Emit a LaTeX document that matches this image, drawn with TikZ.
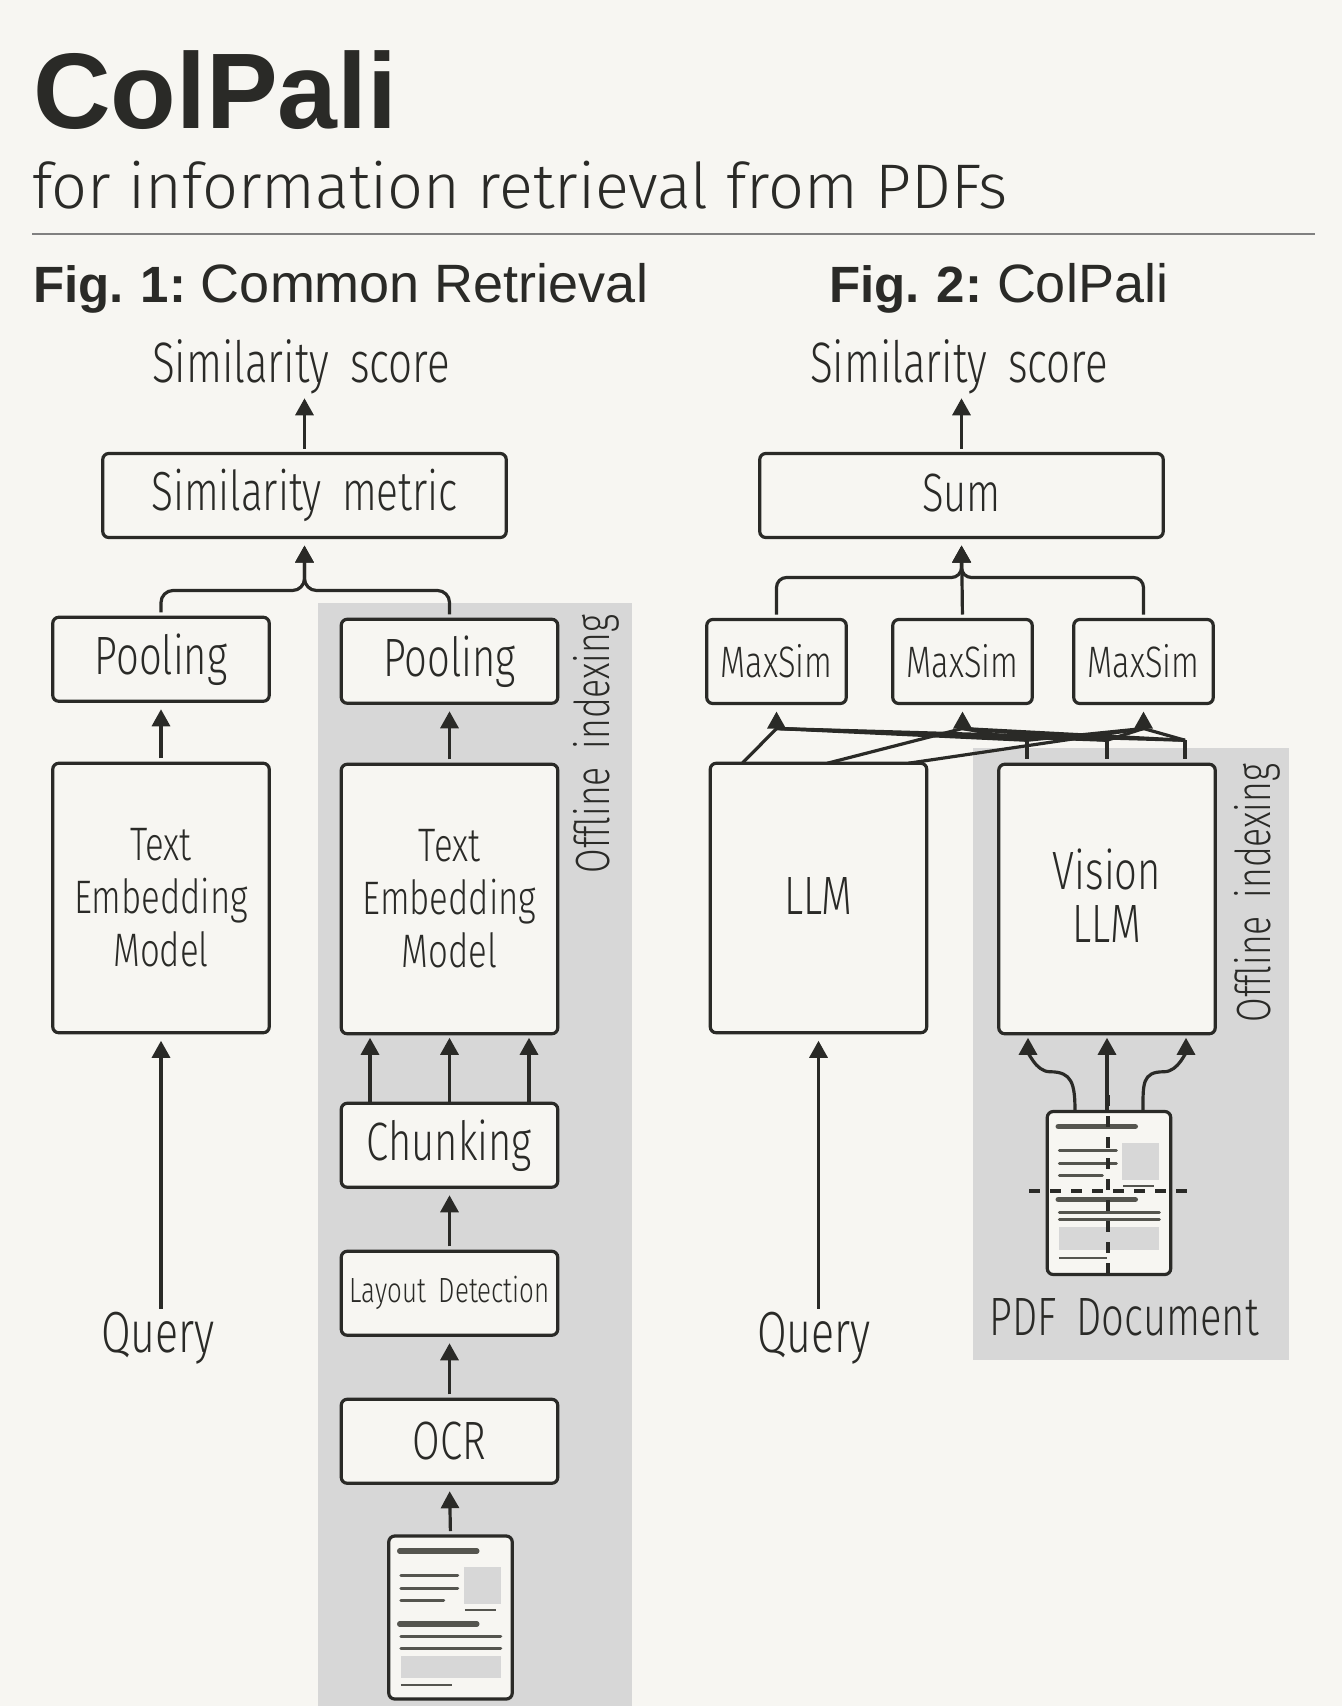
\documentclass[tikz,border=0pt]{standalone}
\usepackage{fontspec}
\setmainfont{Liberation Sans}
\newfontfamily\diafont[FakeStretch=0.74,WordSpace=1.8]{Fira Sans Light}
\newfontfamily\lightfont{Fira Sans Light}
\usetikzlibrary{calc,positioning,arrows.meta}
\definecolor{pagebg}{HTML}{F7F6F2}
\definecolor{panelgrey}{HTML}{D7D7D7}
\definecolor{ink}{HTML}{2A2A27}
\definecolor{pageline}{HTML}{55554F}
\tikzset{
	shortbox/.style={draw=ink,line width=3.2pt,rounded corners=6pt,fill=pagebg,outer sep=0pt,inner sep=0pt,
		minimum width=216.5pt,minimum height=84pt,font=\diafont\fontsize{54}{53}\selectfont,align=center,text=ink},
	tallbox/.style={shortbox,minimum height=269.5pt,font=\diafont\fontsize{47}{53}\selectfont},
	widebox/.style={shortbox,minimum width=403.5pt,font=\diafont\fontsize{55}{53}\selectfont},
	simbox/.style={shortbox,minimum width=139.5pt,font=\diafont\fontsize{44}{40}\selectfont},
	pagebox/.style={shortbox,minimum width=123.5pt,minimum height=163pt},
	difflabel/.style={inner sep=0pt,outer sep=0pt,text=ink,font=\diafont\fontsize{57}{53}\selectfont},
	sidelabel/.style={difflabel,rotate=90,font=\diafont\fontsize{48}{50}\selectfont},
	headtext/.style={inner sep=0pt,outer sep=0pt,anchor=base west,text=ink},
	flow/.style={draw=ink,line width=3.2pt,-{Triangle[length=17pt,width=18pt]},shorten >=8pt,shorten <=5pt},
	link/.style={draw=ink,line width=3.2pt},
	panel/.style={fill=panelgrey,draw=none},
	pagerule/.style={pageline,line width=3pt,line cap=round},
	pagetitle/.style={pageline,line width=5.5pt,line cap=round},
	cutline/.style={draw=ink,line width=3.5pt,dash pattern=on 11pt off 10pt}
}
\newcommand{\pagetop}{
	\draw[pagetitle] (11,15) -- (88,15);
	\draw[pagerule] (12,39) -- (69,39);
	\draw[pagerule] (12,52) -- (69,52);
	\draw[pagerule] (12,64) -- (55,64);
	\fill[panelgrey] (75,31) rectangle (112,68);
	\draw[pageline,line width=2pt] (76,74) -- (107,74);
	\draw[pagetitle] (11,88) -- (88,88);
}

\begin{document}
\begin{tikzpicture}[x=1pt,y=-1pt]

\useasboundingbox (0,0) rectangle (1342,1706);
\fill[pagebg] (0,0) rectangle (1342,1706);

\node[headtext,font=\bfseries\fontsize{107.5}{106}\selectfont] (title) at (33,128) {ColPali};
\node[headtext,font=\lightfont\fontsize{63}{66}\selectfont] (subtitle) at (32,208) {for information retrieval from PDFs};
\draw[gray,line width=1.5pt] (32,234) -- (1315,234);
\node[headtext,font=\fontsize{54}{53}\selectfont] (figone) at (33,302) {\textbf{\fontsize{51}{53}\selectfont Fig.\kern17pt1:}\kern15pt Common Retrieval};
\node[headtext,font=\fontsize{54}{53}\selectfont] (figtwo) at (829,302) {\textbf{\fontsize{51}{53}\selectfont Fig.\kern17pt2:}\kern15pt ColPali};

\fill[panel] (318,603) rectangle (632,1706);
\fill[panel] (973,748) rectangle (1289,1360);

% Fig. 1, query side
\node[tallbox] (textL) at (161,898) {Text\\Embedding\\Model};
\node[shortbox,above=62pt of textL] (poolL) {Pooling};
\node[widebox] (metric) at (304.5,495.5) {Similarity metric};
\node[difflabel] (scoreL) at (301,367) {Similarity score};
\node[difflabel,font=\diafont\fontsize{58}{53}\selectfont] (queryL) at (158,1338) {Query};

% Fig. 1, offline side
\node[tallbox] (textR) at (449.5,899) {Text\\Embedding\\Model};
\node[shortbox,above=61pt of textR] (poolR) {Pooling};
\node[shortbox,below=69.5pt of textR] (chunk) {Chunking};
\node[shortbox,below=64pt of chunk,font=\diafont\fontsize{35}{33}\selectfont] (layout) {Layout Detection};
\node[shortbox,below=64pt of layout] (ocr) {OCR};
\node[pagebox] (docL) at (450.5,1617.5) {};
\node[sidelabel] (offL) at (596,744) {Offline indexing};

\begin{scope}[shift={(docL.north west)}]
\pagetop
\draw[pagerule] (12,100) -- (112,100);
\draw[pagerule] (12,112) -- (112,112);
\fill[panelgrey] (12,120) rectangle (112,142);
\draw[pageline,line width=2pt] (12,149) -- (63,149);
\end{scope}

\draw[flow,shorten >=4pt] (metric.north) -- (metric.north |- scoreL.south);
\draw[flow,rounded corners=12pt] (poolL.north) |- ( $ (metric.south) +(0,53) $ ) -- (metric.south);
\draw[flow,rounded corners=12pt] (poolR.north) |- ( $ (metric.south) +(0,53) $ ) -- (metric.south);
\draw[flow] (textL.north) -- (poolL.south);
\draw[flow,shorten <=3pt] (textL.south |- queryL.north) -- (textL.south);
\draw[flow] (textR.north) -- (poolR.south);
\foreach \off in {-79.5,0,79.5}
	\draw[flow,shorten >=4pt,shorten <=0pt] ( $ (chunk.north) +(\off,0) $ ) -- ( $ (textR.south) +(\off,0) $ );
\draw[flow] (layout.north) -- (chunk.south);
\draw[flow] (ocr.north) -- (layout.south);
\draw[flow] (docL.north) -- (ocr.south);

% Fig. 2
\node[tallbox,font=\diafont\fontsize{54}{53}\selectfont,text depth=5pt] (llm) at (818.5,898) {LLM};
\node[tallbox,font=\diafont\fontsize{54}{53}\selectfont,text depth=6pt] (vision) at (1107,899) {Vision\\LLM};
\node[simbox] (simA) at (776.5,661.5) {MaxSim};
\node[simbox] (simB) at (962.5,661.5) {MaxSim};
\node[simbox] (simC) at (1143.5,661.5) {MaxSim};
\node[widebox,font=\diafont\fontsize{54}{53}\selectfont,text depth=6pt] (sum) at (961.5,495.5) {Sum};
\node[difflabel] (scoreR) at (959,367) {Similarity score};
\node[difflabel,font=\diafont\fontsize{58}{53}\selectfont] (queryR) at (814,1338) {Query};
\node[pagebox] (docR) at (1109,1193) {};
\node[difflabel,font=\diafont\fontsize{54}{53}\selectfont] (pdfname) at (1124,1317) {PDF Document};
\node[sidelabel] (offR) at (1257,893) {Offline indexing};

\begin{scope}[shift={(docR.north west)}]
\pagetop
\draw[pagerule] (12,101) -- (112,101);
\draw[pagerule] (12,108) -- (112,108);
\fill[panelgrey] (12,115) rectangle (112,138);
\draw[pageline,line width=2pt] (12,146) -- (60,146);
\end{scope}

\draw[flow,shorten >=4pt] (sum.north) -- (sum.north |- scoreR.south);
\draw[flow,rounded corners=10pt] (simA.north) |- ( $ (sum.south) +(0,40) $ ) -- (sum.south);
\draw[flow,rounded corners=10pt] (simC.north) |- ( $ (sum.south) +(0,40) $ ) -- (sum.south);
\draw[flow] (simB.north) -- (sum.south);
\draw[flow,shorten <=3pt] (llm.south |- queryR.north) -- (llm.south);

\coordinate (llmA) at ( $ (llm.north west) +(32,0) $ );
\coordinate (llmB) at ( $ (llm.north west) +(117,0) $ );
\coordinate (llmC) at ( $ (llm.north west) +(198,0) $ );
\coordinate (visA) at ( $ (vision.north) +(-80,-24) $ );
\coordinate (visB) at ( $ (vision.north) +(0,-24) $ );
\coordinate (visC) at ( $ (vision.north) +(78,-24) $ );
\foreach \s in {visA,visB,visC}
	\draw[link] (\s) -- +(0,19);
\foreach \m/\l in {simA/llmA,simB/llmB,simC/llmC} {
	\coordinate (\m foot) at ( $ (\m.south) +(0,25) $ );
	\draw[link] (\l) -- (\m foot);
	\foreach \s in {visA,visB,visC}
		\draw[link] (\s) -- (\m foot);
	\draw[flow,shorten <=0pt] ( $ (\m foot) +(0,1) $ ) -- (\m.south);
}

\draw[flow,shorten >=4pt,shorten <=0pt] (vision.south |- docR.north) -- (vision.south);
\draw[flow,shorten >=4pt,shorten <=0pt] ( $ (docR.north) +(-34,0) $ ) .. controls +(0,-28) and +(22,0) .. ( $ (vision.south) +(-57,38) $ ) .. controls +(-15,0) and +(0,16) .. ( $ (vision.south) +(-79,0) $ );
\draw[flow,shorten >=4pt,shorten <=0pt] ( $ (docR.north) +(34,0) $ ) .. controls +(0,-28) and +(-22,0) .. ( $ (vision.south) +(57,38) $ ) .. controls +(15,0) and +(0,16) .. ( $ (vision.south) +(79,0) $ );
\coordinate (cutN) at ( $ (docR.center) +(-1,-98) $ );
\coordinate (cutS) at ( $ (docR.center) +(-1,90) $ );
\coordinate (cutW) at ( $ (docR.center) +(-80,-2) $ );
\coordinate (cutE) at ( $ (docR.center) +(79,-2) $ );
\draw[cutline] (cutN) -- (cutS);
\draw[cutline] (cutW) -- (cutE);

\end{tikzpicture}
\end{document}
